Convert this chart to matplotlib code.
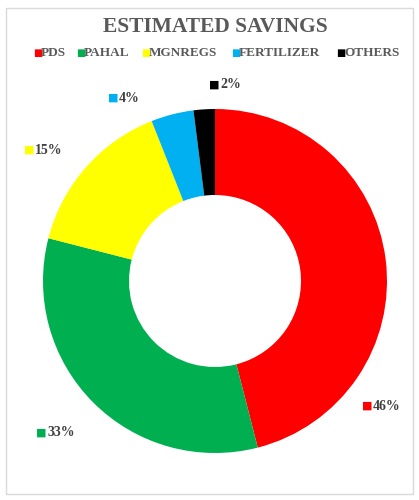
import matplotlib
matplotlib.use("Agg")
import matplotlib.pyplot as plt
from matplotlib.patches import Rectangle

# data
categories = ["PDS", "PAHAL", "MGNREGS", "FERTILIZER", "OTHERS"]
savings = [46, 33, 15, 4, 2]
colors = ["#ff0000", "#00b050", "#ffff00", "#00b0f0", "#000000"]

# label positions (pixels from top-left) for the percentage labels
label_pos = [(362, 406), (36, 433), (24, 150), (108, 98), (209, 85)]

W, H = 419, 500
fig = plt.figure(figsize=(W / 100, H / 100), dpi=100)
fig.patch.set_facecolor("white")

# light border round the chart area
fig.add_artist(Rectangle((6 / W, 6 / H), (W - 12) / W, (H - 14) / H,
                         transform=fig.transFigure, fill=False,
                         edgecolor="#d9d9d9", linewidth=1))

cx, cy, r = 215, 281, 172
ax = fig.add_axes([(cx - r) / W, (H - cy - r) / H, 2 * r / W, 2 * r / H])
ax.pie(savings, colors=colors, startangle=90, counterclock=False,
       wedgeprops=dict(width=0.5, edgecolor="none"), radius=1)
ax.set_xlim(-1, 1)
ax.set_ylim(-1, 1)
ax.set_aspect("auto")
ax.axis("off")

fig.text(0.513, 1 - 27 / H, "ESTIMATED SAVINGS", ha="center", va="center",
         fontsize=15.5, fontweight="bold", family="Liberation Serif", color="#595959")

# legend row
leg_x = [33, 76, 141, 231, 336]
for name, col, x in zip(categories, colors, leg_x):
    fig.text(x / W, 1 - 53 / H, "\u25a0", ha="left", va="center",
             fontsize=7, color=col, family="DejaVu Sans")
    fig.text((x + 8) / W, 1 - 53 / H, name, ha="left", va="center",
             fontsize=9.5, fontweight="bold", family="Liberation Serif", color="#595959")

for val, col, (x, y) in zip(savings, colors, label_pos):
    fig.text(x / W, 1 - y / H, "\u25a0", ha="left", va="center",
             fontsize=8, color=col, family="DejaVu Sans")
    fig.text((x + 11) / W, 1 - y / H, f"{val}%", ha="left", va="center",
             fontsize=10, fontweight="bold", family="Liberation Serif", color="#404040")

fig.savefig("out.png", dpi=100)
